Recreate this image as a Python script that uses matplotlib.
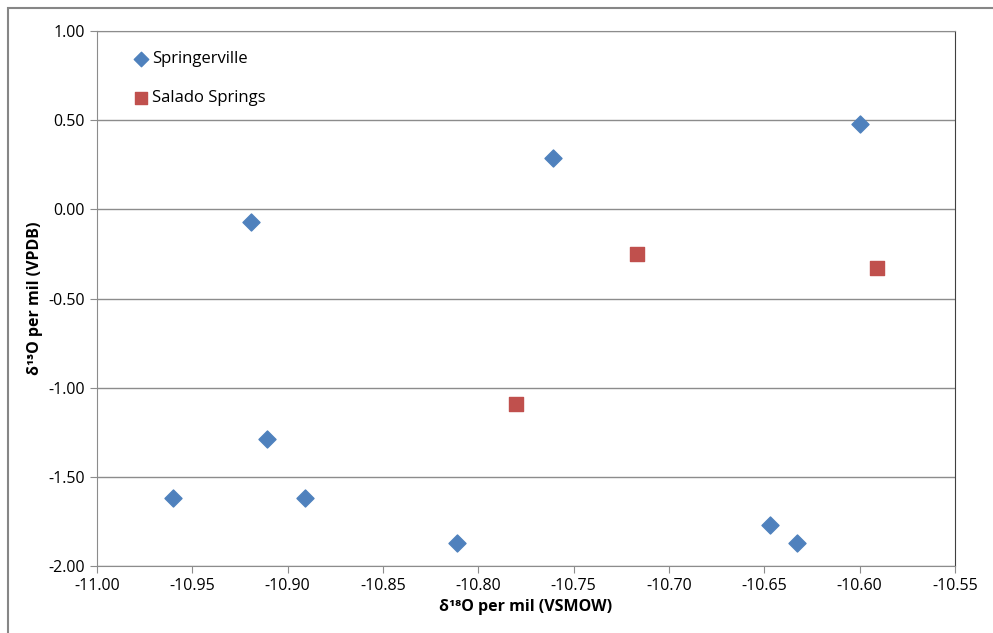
import matplotlib
matplotlib.use("Agg")
import matplotlib.pyplot as plt
from matplotlib.patches import Rectangle

# data
spr_x = [-10.960, -10.919, -10.911, -10.891, -10.811, -10.761, -10.647, -10.633, -10.600]
spr_y = [-1.62, -0.07, -1.29, -1.62, -1.87, 0.29, -1.77, -1.87, 0.48]
sal_x = [-10.780, -10.717, -10.591]
sal_y = [-1.09, -0.25, -0.33]

x_ticks = [-11.00, -10.95, -10.90, -10.85, -10.80, -10.75, -10.70, -10.65, -10.60, -10.55]
y_ticks = [1.00, 0.50, 0.00, -0.50, -1.00, -1.50, -2.00]

plt.rcParams['font.family'] = ['Open Sans', 'DejaVu Sans']

fig = plt.figure(figsize=(9.93, 6.33), dpi=100)
ax = fig.add_axes([0.0977, 0.1058, 0.8640, 0.8452])

# outer chart frame
fig.patches.append(Rectangle((0.008, -0.01), 0.995, 0.997, transform=fig.transFigure,
                             fill=False, edgecolor='#868686', linewidth=1.5))

ax.scatter(spr_x, spr_y, marker='D', s=75, color='#4F81BD', label='Springerville', zorder=3)
ax.scatter(sal_x, sal_y, marker='s', s=110, color='#C0504D', label='Salado Springs', zorder=3)

ax.set_xlim(-11.00, -10.55)
ax.set_ylim(-2.00, 1.00)
ax.set_xticks(x_ticks)
ax.set_yticks(y_ticks)
ax.set_xticklabels([f"{v:.2f}" for v in x_ticks], fontsize=11.5)
ax.set_yticklabels([f"{v:.2f}" for v in y_ticks], fontsize=11.5)

ax.grid(axis='y', color='#8c8c8c', linewidth=1)
ax.set_axisbelow(True)
ax.tick_params(axis='y', length=5, color='#8c8c8c', direction='out')
ax.tick_params(axis='x', length=5, color='#8c8c8c', direction='out')

for side in ['left', 'bottom', 'top']:
    ax.spines[side].set_color('#8c8c8c')
ax.spines['right'].set_color('#404040')

ax.set_xlabel("δ¹⁸O per mil (VSMOW)", fontsize=11.5, fontweight='bold', labelpad=4)
ax.set_ylabel("δ¹³O per mil (VPDB)", fontsize=11.5, fontweight='bold', labelpad=4)

ax.legend(loc='upper left', frameon=False, fontsize=12, handletextpad=0.15,
          handlelength=1.0, borderpad=0, borderaxespad=0, labelspacing=1.38,
          markerscale=0.85, bbox_to_anchor=(0.042, 0.962))

fig.savefig("out.png", dpi=100)
